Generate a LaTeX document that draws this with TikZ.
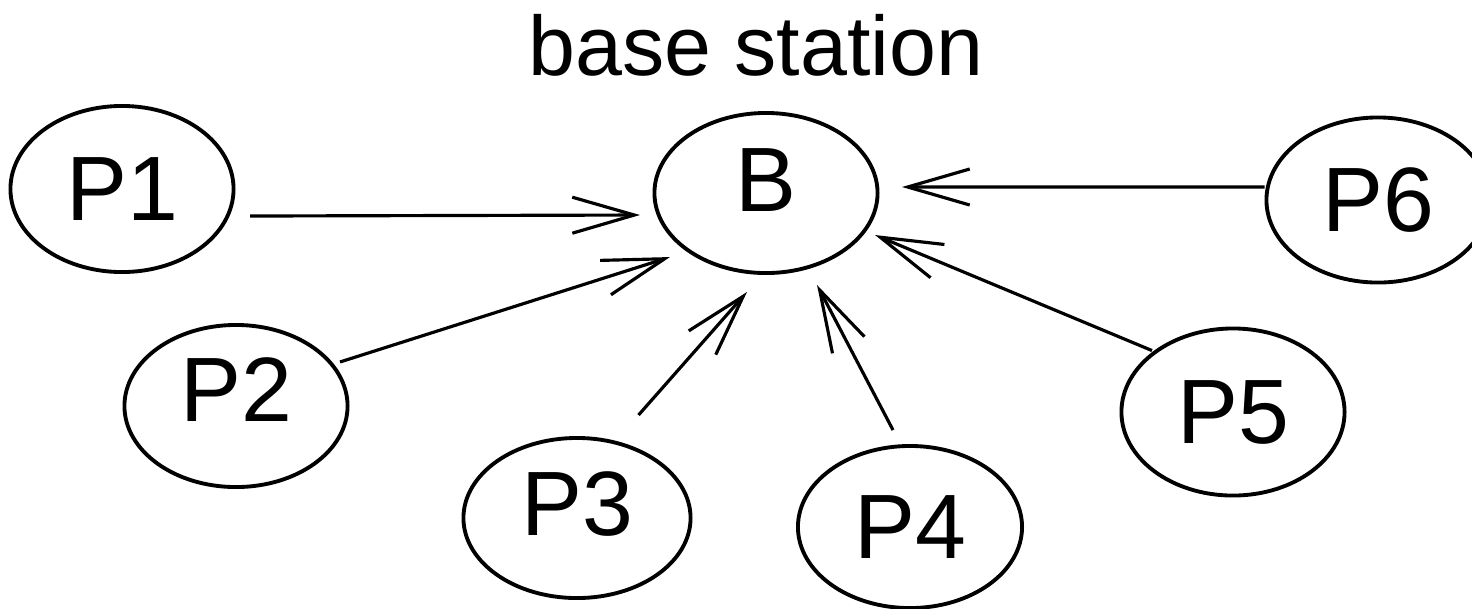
\documentclass[tikz,border=0pt]{standalone}
\usepackage{fontspec}
\setmainfont{Liberation Sans}
\usepackage{tikz}
\usetikzlibrary{shapes.geometric}
\usetikzlibrary{arrows.meta}
\tikzstyle{station} = [
	ellipse,
	draw=black,
	line width=1.1pt,
	minimum width=2.23cm,
	minimum height=1.62cm,
	inner sep=0pt,
	font=\fontsize{26}{28}\selectfont
]
\tikzstyle{link} = [
	-{Straight Barb[length=0.62cm, width=0.36cm]},
	line width=0.9pt
]
\begin{document}
\begin{tikzpicture}[x=0.01cm, y=-0.01cm]
	\useasboundingbox (0,0) rectangle (1472,608);

	%
	% Base station
	\node[inner sep=0pt, font=\fontsize{24}{26}\selectfont] (title) at (756,45) {base station};
	\node[station, minimum height=1.60cm, text depth=0.26cm] (B) at (766,193) {B};

	%
	% Stations
	\node[station, minimum height=1.66cm] (P1) at (122,189) {P1};
	\node[station, text depth=0.32cm] (P2) at (236,406) {P2};
	\node[station, minimum width=2.27cm, minimum height=1.60cm, text depth=0.28cm] (P3) at (577,518) {P3};
	\node[station, minimum width=2.24cm] (P4) at (910,527) {P4};
	\node[station, minimum height=1.67cm] (P5) at (1233,412) {P5};
	\node[station, minimum height=1.65cm] (P6) at (1378,200) {P6};

	%
	% Arrows to B
	\draw[link] ([xshift=0.145cm, yshift=-0.27cm]P1.east) -- ([xshift=-0.125cm, yshift=-0.22cm]B.west);
	\draw[link] ([xshift=-0.095cm, yshift=0.44cm]P2.east) -- ([xshift=0.175cm, yshift=-0.64cm]B.west);
	\draw[link] ([xshift=0.615cm, yshift=0.21cm]P3.north) -- ([xshift=-0.19cm, yshift=-0.17cm]B.south);
	\draw[link] ([xshift=-0.17cm, yshift=0.14cm]P4.north) -- ([xshift=0.51cm, yshift=-0.10cm]B.south);
	\draw[link] ([xshift=-0.81cm, yshift=-0.24cm]P5.north) -- ([xshift=-0.045cm, yshift=-0.42cm]B.east);
	\draw[link] ([yshift=0.13cm]P6.west) -- ([xshift=0.225cm, yshift=0.06cm]B.east);

\end{tikzpicture}
\end{document}
